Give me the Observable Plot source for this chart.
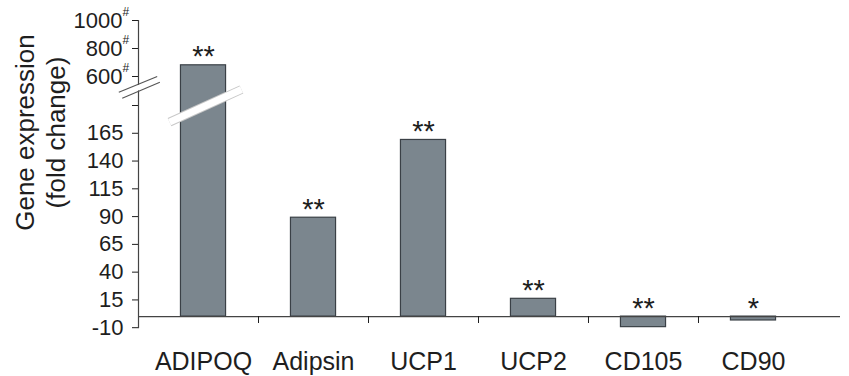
<!DOCTYPE html>
<html><head><meta charset="utf-8">
<script src="https://cdn.jsdelivr.net/npm/d3@7"></script>
<script src="https://cdn.jsdelivr.net/npm/@observablehq/plot@0.6"></script>
<style>
html,body{margin:0;padding:0;background:#fff;}
</style></head><body><div id="chart"></div>
<script>
// ---- data ----
const genes = ["ADIPOQ", "Adipsin", "UCP1", "UCP2", "CD105", "CD90"];
const foldChange = [680, 89, 159, 16, -9.5, -3.5];
const significance = ["**", "**", "**", "**", "**", "*"];
const yTicksLower = [-10, 15, 40, 65, 90, 115, 140, 165, 190];
const yTicksUpper = [600, 800, 1000];
const yBreakDomain = [-10, 190, 600, 1000];   // broken axis pieces
const yLabel = ["Gene expression", "(fold change)"];

const data = genes.map((gene, i) => ({gene, i, value: foldChange[i], sig: significance[i]}));
const xDomain = [-0.591, 5.791];
const xAxisPos = xDomain[0];

// decorative axis-break slashes (in data units)
const axisBreakLines = [
  {x1: -0.770, y1: 378, x2: -0.421, y2: 600},
  {x1: -0.739, y1: 293, x2: -0.397, y2: 519}
];
const axisBreakGap = [{x1: -0.755, y1: 336, x2: -0.409, y2: 560}];
const barBreak = [{x1: -0.309, y1: 175, x2: 0.345, y2: 416}];

const BAR = "#7b868e", EDGE = "#3a4046", INK = "#1e1e1e";

const chart = Plot.plot({
  width: 849,
  height: 376,
  marginLeft: 138,
  marginRight: 9,
  marginTop: 20,
  marginBottom: 60,
  style: {fontFamily: "'Liberation Sans', Arial, sans-serif", fontSize: "22px", color: INK, background: "#fff"},
  x: {type: "linear", domain: xDomain},
  y: {type: "linear", domain: yBreakDomain, range: [327.2, 105, 76, 20]},
  marks: [
    // bars
    Plot.rect(data, {x1: d => d.i - 0.205, x2: d => d.i + 0.205, y1: 0, y2: "value",
      fill: BAR, stroke: EDGE, strokeWidth: 1.2}),
    // break band across the ADIPOQ bar
    Plot.link(barBreak, {x1: "x1", y1: "y1", x2: "x2", y2: "y2", stroke: "#c8c8c8", strokeWidth: 9}),
    Plot.link(barBreak, {x1: "x1", y1: "y1", x2: "x2", y2: "y2", stroke: "#ffffff", strokeWidth: 7}),
    // x axis baseline
    Plot.ruleY([0], {stroke: "#444", strokeWidth: 1.2}),
    // y axis line
    Plot.ruleX([xAxisPos], {y1: -11, y2: 1000, stroke: "#444", strokeWidth: 1.2}),
    // axis break
    Plot.link(axisBreakGap, {x1: "x1", y1: "y1", x2: "x2", y2: "y2", stroke: "#fff", strokeWidth: 5}),
    Plot.link(axisBreakLines, {x1: "x1", y1: "y1", x2: "x2", y2: "y2", stroke: "#555", strokeWidth: 1.1}),
    // y ticks and labels
    Plot.axisY(yTicksLower, {anchor: "left", tickSize: 6, tickPadding: 9, fontSize: 22, label: null,
      tickFormat: d => d === 190 ? "" : String(d)}),
    Plot.axisY(yTicksUpper, {anchor: "left", tickSize: 6, tickPadding: 10, fontSize: 22, label: null,
      tickFormat: d => String(d)}),
    Plot.text(yTicksUpper, {y: d => d, text: () => "#", frameAnchor: "left", textAnchor: "start",
      dx: -16, dy: -8, fontSize: 12, fill: INK}),
    // x boundary ticks
    Plot.axisX([0.5, 1.5, 2.5, 3.5, 4.5], {anchor: "bottom", tickSize: 7, tickFormat: () => "", label: null}),
    // category labels
    Plot.axisX(data.map(d => d.i), {anchor: "bottom", tickSize: 0, tickPadding: 36, fontSize: 25,
      tickFormat: i => genes[i], label: null}),
    // significance stars
    Plot.text(data, {x: "i", y: d => Math.max(d.value, 0), text: "sig", lineAnchor: "bottom",
      dy: 1, fontSize: 29, fill: INK}),
    // y axis title
    Plot.text([yLabel[0]], {text: d => d, frameAnchor: "left", textAnchor: "middle", rotate: -90,
      dx: -113, dy: -36, fontSize: 26, fill: INK}),
    Plot.text([yLabel[1]], {text: d => d, frameAnchor: "left", textAnchor: "middle", rotate: -90,
      dx: -82, dy: -36, fontSize: 26, fill: INK})
  ]
});
document.getElementById("chart").appendChild(chart);
</script>
</body></html>
